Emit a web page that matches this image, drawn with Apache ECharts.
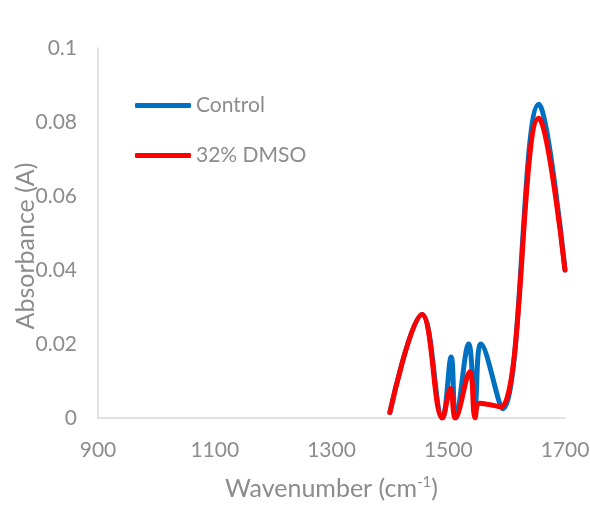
<!DOCTYPE html>
<html>
<head>
<meta charset="utf-8">
<script src="https://cdn.jsdelivr.net/npm/echarts@6/dist/echarts.min.js"></script>
<style>
  html, body { margin: 0; padding: 0; background: #fff; }
  #chart { width: 590px; height: 525px; }
</style>
</head>
<body>
<div id="chart"></div>
<script>
  // data (wavenumber, absorbance)
  const controlWave = [1400, 1455, 1490, 1505, 1513, 1535, 1546, 1556, 1593, 1655, 1700];
  const controlAbs  = [0.0015, 0.028, 0, 0.0165, 0, 0.02, 0.004, 0.02, 0.0025, 0.0848, 0.040];
  const dmsoWave = [1400, 1455, 1490, 1504, 1512, 1537, 1546, 1554, 1590, 1655, 1700];
  const dmsoAbs  = [0.0015, 0.028, 0, 0.008, 0, 0.0125, 0, 0.004, 0.003, 0.081, 0.040];
  const seriesNames = ['Control', '32% DMSO'];

  const font = 'Lato, "Open Sans", sans-serif';
  const grey = '#8c8c8c';

  function pairs(xs, ys) {
    return xs.map(function (x, i) { return [x, ys[i]]; });
  }

  const chart = echarts.init(document.getElementById('chart'));
  chart.setOption({
    animation: false,
    color: ['#0070C0', '#FF0000'],
    textStyle: { fontFamily: font },
    grid: { left: 98, right: 25, top: 48, bottom: 107, outerBoundsMode: 'none' },
    legend: {
      orient: 'vertical',
      left: 130,
      top: 90,
      itemGap: 29,
      itemWidth: 56,
      itemHeight: 5,
      icon: 'roundRect',
      textStyle: { color: grey, fontSize: 21, fontFamily: font },
      data: seriesNames
    },
    xAxis: {
      type: 'value',
      min: 900,
      max: 1700,
      interval: 200,
      name: 'Wavenumber (cm{sup|-1})',
      nameLocation: 'middle',
      nameGap: 57,
      nameMoveOverlap: false,
      nameTextStyle: {
        color: grey, fontSize: 25, fontFamily: font,
        rich: { sup: { fontSize: 15, color: grey, verticalAlign: 'top', padding: [0, 0, 12, 0], fontFamily: font } }
      },
      axisLine: { show: true, lineStyle: { color: '#d9d9d9', width: 1.5 } },
      axisTick: { show: false },
      splitLine: { show: false },
      axisLabel: {
        color: grey, fontSize: 21, margin: 22, fontFamily: font,
        formatter: function (v) { return String(v); }
      }
    },
    yAxis: {
      type: 'value',
      min: 0,
      max: 0.1,
      interval: 0.02,
      name: 'Absorbance (A)',
      nameLocation: 'middle',
      nameGap: 60,
      nameMoveOverlap: false,
      // pushes the title a little below the axis middle, as in the picture
      nameTextStyle: { color: grey, fontSize: 25, fontFamily: font, padding: [0, 26, 0, 0] },
      axisLine: { show: true, lineStyle: { color: '#d9d9d9', width: 1.5 } },
      axisTick: { show: false },
      splitLine: { show: false },
      axisLabel: { color: grey, fontSize: 21, margin: 21, fontFamily: font }
    },
    series: [
      {
        name: seriesNames[0],
        type: 'line',
        smooth: 0.4,
        showSymbol: false,
        lineStyle: { width: 5, cap: 'round', join: 'round' },
        data: pairs(controlWave, controlAbs)
      },
      {
        name: seriesNames[1],
        type: 'line',
        smooth: 0.4,
        showSymbol: false,
        lineStyle: { width: 5, cap: 'round', join: 'round' },
        data: pairs(dmsoWave, dmsoAbs)
      }
    ]
  });
</script>
</body>
</html>
